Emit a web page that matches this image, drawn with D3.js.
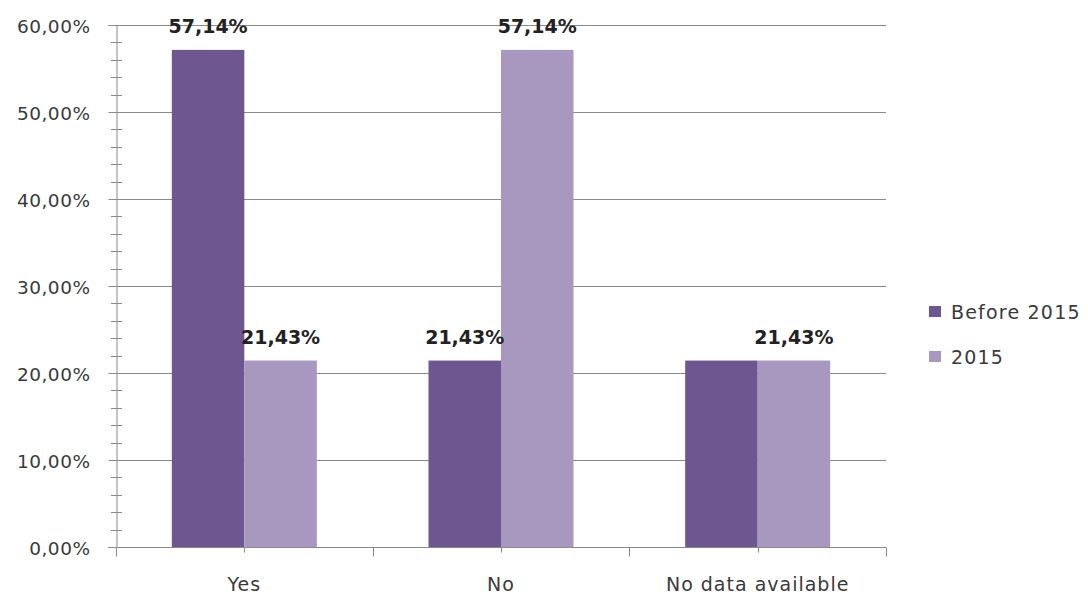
<!DOCTYPE html>
<html>
<head>
<meta charset="utf-8">
<script src="https://cdn.jsdelivr.net/npm/d3@7"></script>
<style>
  html, body { margin: 0; padding: 0; background: #fff; }
  svg { display: block; }
  text { font-family: "DejaVu Sans", Verdana, sans-serif; }
</style>
</head>
<body>
<svg id="chart" width="1088" height="594"></svg>
<script>
// Survey answers, share of respondents per period
const categories = ["Yes", "No", "No data available"];
const seriesNames = ["Before 2015", "2015"];
const before2015 = [57.14, 21.43, 21.43];
const in2015 = [21.43, 57.14, 21.43];
// Which bars carry a value label
const labelsBefore = [true, true, false];
const labels2015 = [true, true, true];
const yTicks = [0, 10, 20, 30, 40, 50, 60];
const colors = ["#6e5690", "#a898c0"];

const fmt = v => d3.format(".2f")(v).replace(".", ",") + "%";

const svg = d3.select("#chart");
const margin = { left: 116, right: 202, top: 25, bottom: 47 };
const W = 1088, H = 594;
const x0 = margin.left, x1 = W - margin.right;
const yTop = margin.top, yBot = H - margin.bottom;

const x = d3.scaleBand().domain(categories).range([x0, x1]).paddingInner(0).paddingOuter(0);
const xs = d3.scaleBand().domain(seriesNames).range([0, x.bandwidth()]).paddingOuter(0.77).paddingInner(0);
const y = d3.scaleLinear().domain([0, 60]).range([yBot, yTop]);

const series = [before2015, in2015];
const showLabels = [labelsBefore, labels2015];
const axisColor = "#8a8a8a";
const textColor = "#3a3a3a";

// Horizontal gridlines
svg.append("g")
  .selectAll("line")
  .data(yTicks.filter(t => t > 0))
  .join("line")
  .attr("x1", x0).attr("x2", x1)
  .attr("y1", d => Math.round(y(d)) + 0.5).attr("y2", d => Math.round(y(d)) + 0.5)
  .attr("stroke", axisColor).attr("stroke-width", 1);

// Bars
seriesNames.forEach((name, si) => {
  svg.append("g")
    .selectAll("rect")
    .data(categories)
    .join("rect")
    .attr("x", c => x(c) + xs(name))
    .attr("y", (c, i) => y(series[si][i]))
    .attr("width", xs.bandwidth())
    .attr("height", (c, i) => y(0) - y(series[si][i]))
    .attr("fill", colors[si]);
});

// Y axis with minor ticks
const yAxis = d3.axisLeft(y).tickValues(yTicks).tickFormat(d => fmt(d)).tickSize(8).tickPadding(18);
const gy = svg.append("g").attr("transform", `translate(${x0 + 0.5},0)`).call(yAxis);
gy.select(".domain").attr("stroke", axisColor);
gy.selectAll(".tick line").attr("stroke", axisColor);
gy.selectAll(".tick text").attr("fill", textColor).attr("y", 2)
  .style("font-size", "18.5px").style("letter-spacing", "0.5px");

const minor = d3.range(0, 60.001, 2).filter(v => v % 10 !== 0);
svg.append("g")
  .selectAll("line")
  .data(minor)
  .join("line")
  .attr("x1", x0 - 5).attr("x2", x0 + 6)
  .attr("y1", d => Math.round(y(d)) + 0.5).attr("y2", d => Math.round(y(d)) + 0.5)
  .attr("stroke", axisColor);

// X axis
const gx = svg.append("g").attr("transform", `translate(0,${Math.round(yBot) + 0.5})`);
gx.append("line").attr("x1", x0).attr("x2", x1).attr("stroke", axisColor);
const boundaries = categories.map(c => x(c)).concat([x1]);
gx.selectAll("line.tick")
  .data(boundaries)
  .join("line")
  .attr("class", "tick")
  .attr("x1", d => Math.round(d) + 0.5).attr("x2", d => Math.round(d) + 0.5)
  .attr("y1", 0).attr("y2", 9)
  .attr("stroke", axisColor);
gx.selectAll("line.ctick")
  .data(categories)
  .join("line")
  .attr("class", "ctick")
  .attr("x1", c => Math.round(x(c) + x.bandwidth() / 2) + 0.5)
  .attr("x2", c => Math.round(x(c) + x.bandwidth() / 2) + 0.5)
  .attr("y1", 0).attr("y2", 5)
  .attr("stroke", axisColor);
gx.selectAll("text")
  .data(categories)
  .join("text")
  .attr("x", c => x(c) + x.bandwidth() / 2)
  .attr("y", 43)
  .attr("text-anchor", "middle")
  .attr("fill", textColor)
  .style("font-size", "19px")
  .style("letter-spacing", "1px")
  .text(c => c);

// Value labels
seriesNames.forEach((name, si) => {
  svg.append("g")
    .selectAll("text")
    .data(categories.map((c, i) => ({ c, v: series[si][i], show: showLabels[si][i] })).filter(d => d.show))
    .join("text")
    .attr("x", d => x(d.c) + xs(name) + xs.bandwidth() / 2)
    .attr("y", d => y(d.v) - 17)
    .attr("text-anchor", "middle")
    .attr("fill", "#222")
    .style("font-size", "19px")
    .style("font-weight", "bold")
    .text(d => fmt(d.v));
});

// Legend
const legend = svg.append("g").attr("transform", "translate(929,0)");
seriesNames.forEach((name, si) => {
  const cy = 312 + si * 45;
  legend.append("rect").attr("x", 0).attr("y", cy - 6).attr("width", 12).attr("height", 11).attr("fill", colors[si]);
  legend.append("text").attr("x", 22).attr("y", cy + 7)
    .attr("fill", textColor).style("font-size", "19px").style("letter-spacing", "1.2px").text(name);
});
</script>
</body>
</html>
